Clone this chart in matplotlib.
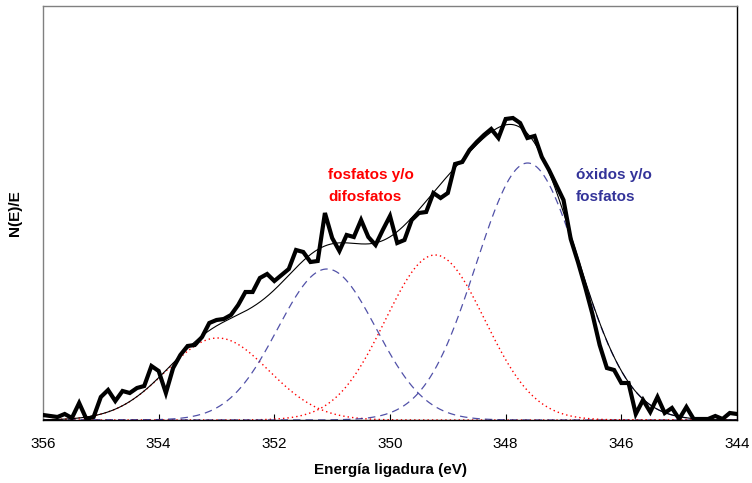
import matplotlib.pyplot as plt
import numpy as np

plt.rcParams['font.family'] = ['Liberation Sans', 'DejaVu Sans']

# binding energy grid of the measured spectrum (eV), 0.125 eV step
e_start = 356.0
e_step = 0.125
counts = [
    5, 4, 3, 6, 2, 17, 1, 3, 23, 30,
    19, 29, 27, 32, 34, 54, 49, 27, 52, 65,
    74, 75, 83, 97, 100, 101, 105, 115, 128, 128,
    142, 146, 139, 145, 151, 170, 168, 158, 159, 207,
    182, 169, 185, 183, 200, 183, 175, 190, 204, 177,
    180, 200, 207, 208, 227, 222, 227, 256, 258, 270,
    278, 285, 291, 282, 301, 302, 297, 282, 284, 263,
    250, 235, 220, 181, 158, 133, 106, 75, 52, 50,
    37, 37, 6, 20, 8, 23, 7, 12, 1, 13,
    1, 1, 1, 4, 1, 7, 6,
]
energy = e_start - e_step * np.arange(len(counts))

# fitted components: centre (eV), height, sigma (eV)
peak_centres = [352.98, 351.09, 349.22, 347.62]
peak_heights = [82, 151, 165, 257]
peak_sigmas = [0.88, 0.85, 0.86, 0.89]
peak_groups = ['fosfato', 'oxido', 'fosfato', 'oxido']

red = '#ff0000'
blue = '#333399'

x = np.linspace(356, 344, 1200)
comps = [h * np.exp(-(x - c) ** 2 / (2 * s ** 2))
         for c, h, s in zip(peak_centres, peak_heights, peak_sigmas)]
envelope = np.sum(comps, axis=0)

fig = plt.figure(figsize=(7.52, 4.83), dpi=100)
ax = fig.add_axes([43 / 752, 63 / 483, 694 / 752, 414 / 483])

for comp, grp in zip(comps, peak_groups):
    if grp == 'fosfato':
        ax.plot(x, comp, color=red, lw=1.0, ls=(0, (1, 2.2)), zorder=2)
    else:
        ax.plot(x, comp, color=blue, lw=0.9, ls=(0, (6, 4)), alpha=0.85, zorder=2)

ax.plot(x, envelope, color='black', lw=0.8, zorder=3)
ax.plot(energy, counts, color='black', lw=3.0, solid_joinstyle='miter', zorder=4)

ax.text(351.07, 234, 'fosfatos y/o\ndifosfatos', color=red, fontsize=11,
        fontweight='bold', ha='left', va='center', linespacing=1.65)
ax.text(346.78, 234, 'óxidos y/o\nfosfatos', color=blue, fontsize=11,
        fontweight='bold', ha='left', va='center', linespacing=1.65)

ax.set_xlim(356, 344)
ax.set_ylim(0, 414)
ax.set_xticks(np.arange(356, 343, -2))
ax.set_xticklabels([str(t) for t in range(356, 343, -2)], fontsize=11)
ax.set_yticks([])
ax.tick_params(axis='x', direction='in', length=4, width=0.8, pad=12)

ax.set_xlabel('Energía ligadura (eV)', fontsize=11, fontweight='bold', labelpad=9)
ax.set_ylabel('N(E)/E', fontsize=11, fontweight='bold', labelpad=15)

for side in ['left', 'top']:
    ax.spines[side].set_color('#808080')
    ax.spines[side].set_linewidth(1.0)
ax.spines['right'].set_color('black')
ax.spines['right'].set_linewidth(1.0)
ax.spines['bottom'].set_color('black')
ax.spines['bottom'].set_linewidth(1.0)

fig.savefig('out.png', dpi=100)
